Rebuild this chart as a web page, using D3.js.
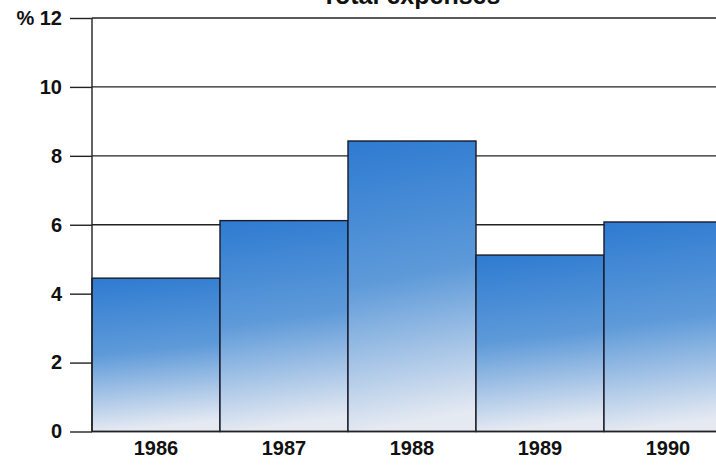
<!DOCTYPE html>
<html><head><meta charset="utf-8">
<script src="https://cdn.jsdelivr.net/npm/d3@7/dist/d3.min.js"></script>
<style>body{margin:0;background:#fff}svg{display:block}</style>
</head><body>
<svg id="c" width="716" height="466"></svg>
<script>
const title = "Total expenses";
const years = ["1986","1987","1988","1989","1990"];
const values = [4.45, 6.12, 8.43, 5.12, 6.08];
const yTicks = [0, 2, 4, 6, 8, 10, 12];

const svg = d3.select("#c");
const W = 716, H = 466;
const x = d3.scaleBand().domain(years).range([92, 732]).padding(0);
const y = d3.scaleLinear().domain([0, 12]).range([431.5, 18]);
const font = "'Liberation Sans', Arial, Helvetica, sans-serif";

const defs = svg.append("defs");
const g = defs.append("linearGradient").attr("id","grad")
  .attr("x1",0).attr("y1",0).attr("x2",0.08).attr("y2",1);
g.append("stop").attr("offset","0%").attr("stop-color","#2e7bd1");
g.append("stop").attr("offset","50%").attr("stop-color","#5e9ad9");
g.append("stop").attr("offset","100%").attr("stop-color","#e4e9f2");

// gridlines
svg.append("g").selectAll("line").data(yTicks.filter(d=>d>0)).join("line")
  .attr("x1", 92).attr("x2", W).attr("y1", d=>y(d)).attr("y2", d=>y(d))
  .attr("stroke","#222").attr("stroke-width",1.4);

// bars
svg.append("g").selectAll("rect").data(years).join("rect")
  .attr("x", d=>x(d)).attr("y", (d,i)=>y(values[i]))
  .attr("width", x.bandwidth()).attr("height", (d,i)=>y(0)-y(values[i]))
  .attr("fill","url(#grad)").attr("stroke","#1a1a2a").attr("stroke-width",1.4);

// y axis
const yAxis = d3.axisLeft(y).tickValues(yTicks).tickSize(22).tickPadding(8)
  .tickFormat(d => d === 12 ? "% 12" : d);
const ya = svg.append("g").attr("transform","translate(92,0)").call(yAxis);
ya.select(".domain").attr("d", `M0,${y(12)}V${y(0)}`).attr("stroke","#222").attr("stroke-width",1.4);
ya.selectAll(".tick line").attr("stroke","#222").attr("stroke-width",1.4);
ya.selectAll(".tick text").attr("font-family",font).attr("font-weight","bold")
  .attr("font-size",20).attr("fill","#111");

// baseline
svg.append("line").attr("x1",92).attr("x2",W).attr("y1",y(0)).attr("y2",y(0))
  .attr("stroke","#222").attr("stroke-width",1.6);

// x axis labels
const xAxis = d3.axisBottom(x).tickSize(0).tickPadding(9);
const xa = svg.append("g").attr("transform",`translate(0,${y(0)})`).call(xAxis);
xa.select(".domain").remove();
xa.selectAll(".tick text").attr("font-family",font).attr("font-weight","bold")
  .attr("font-size",20).attr("fill","#111");

// title (cropped at top, as in the reference)
svg.append("text").attr("x",411).attr("y",4).attr("text-anchor","middle")
  .attr("font-family",font).attr("font-weight","bold").attr("font-size",25)
  .attr("fill","#111").text(title);
</script>
</body></html>
